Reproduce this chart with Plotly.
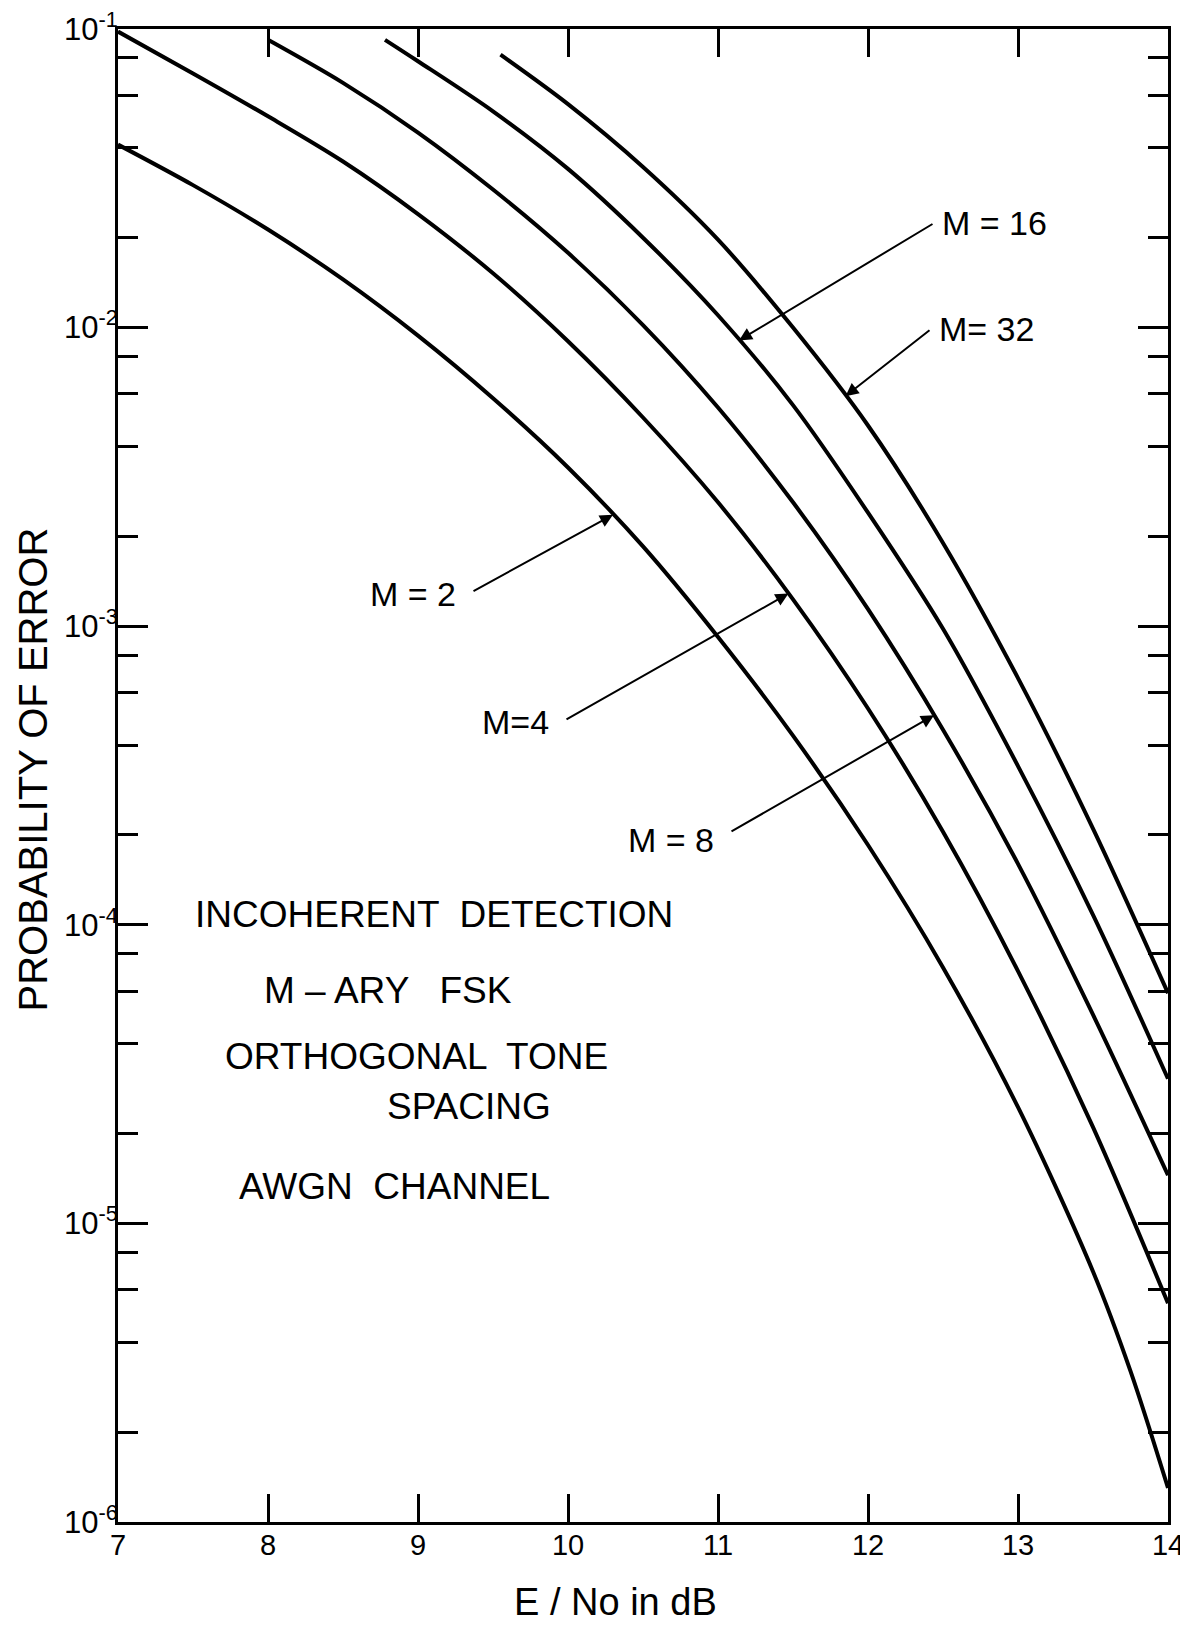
import numpy as np
import plotly.graph_objects as go

# ---- data (E/No in dB, probability of error) ----
x_m2 = [7.0, 7.5, 8.0, 8.5, 9.0, 9.5, 10.0, 10.5, 11.0, 11.5, 12.0, 12.5, 13.0, 13.5, 13.75, 14.0]
p_m2 = [0.041, 0.030, 0.0213, 0.0145, 0.0094, 0.0058, 0.0034, 0.00185, 9.2e-4, 4.3e-4,
        1.85e-4, 7.2e-5, 2.45e-5, 6.9e-6, 3.2e-6, 1.3e-6]

x_m4 = [7.0, 7.5, 8.0, 8.5, 9.0, 9.5, 10.0, 10.5, 11.0, 11.5, 12.0, 12.5, 13.0, 13.5, 14.0]
p_m4 = [0.098, 0.071, 0.051, 0.036, 0.024, 0.0152, 0.0090, 0.0050, 0.0026, 0.00123,
        5.3e-4, 2.05e-4, 7.0e-5, 2.1e-5, 5.4e-6]

x_m8 = [8.0, 8.5, 9.0, 9.5, 10.0, 10.5, 11.0, 11.5, 12.0, 12.5, 13.0, 13.5, 14.0]
p_m8 = [0.092, 0.066, 0.045, 0.029, 0.0178, 0.0102, 0.0054, 0.0026, 0.00114, 4.5e-4,
        1.6e-4, 5.0e-5, 1.45e-5]

x_m16 = [8.78, 9.0, 9.5, 10.0, 10.5, 11.0, 11.5, 12.0, 12.5, 13.0, 13.5, 14.0]
p_m16 = [0.092, 0.078, 0.053, 0.034, 0.020, 0.011, 0.0055, 0.0024, 9.8e-4, 3.4e-4,
         1.08e-4, 3.05e-5]

x_m32 = [9.55, 10.0, 10.5, 11.0, 11.5, 12.0, 12.5, 13.0, 13.5, 14.0]
p_m32 = [0.082, 0.056, 0.0345, 0.0197, 0.010, 0.0047, 0.0019, 6.7e-4, 2.1e-4, 5.9e-5]

x_ticks = [7, 8, 9, 10, 11, 12, 13, 14]
y_ticks = [1e-6, 1e-5, 1e-4, 1e-3, 1e-2, 1e-1]
y_tick_text = ["10<sup>-6</sup>", "10<sup>-5</sup>", "10<sup>-4</sup>",
               "10<sup>-3</sup>", "10<sup>-2</sup>", "10<sup>-1</sup>"]
minor_mult = [2, 4, 6, 8]

curve_labels = ["M = 2", "M=4", "M = 8", "M = 16", "M= 32"]
# arrow tip x on curve, arrow tail (x, log10 y), label side
arrow_tip_x = [10.30, 11.47, 12.44, 11.14, 11.85]
arrow_tail_x = [9.36, 9.98, 11.08, 12.44, 12.42]
arrow_tail_logy = [-2.885, -3.315, -3.69, -1.65, -2.005]
label_side = ["right", "right", "right", "left", "left"]
label_yshift = [-2, -2, -8, 0, 0]

info_lines = ["INCOHERENT  DETECTION", "M \u2013 ARY   FSK", "ORTHOGONAL  TONE", "SPACING", "AWGN  CHANNEL"]
info_x = [7.50, 7.96, 7.70, 8.78, 7.79]
info_logy = [-3.965, -4.22, -4.44, -4.61, -4.875]

x_title = "E / No in dB"
y_title = "PROBABILITY OF ERROR"

FONT = "Liberation Sans"
curves = [(x_m2, p_m2), (x_m4, p_m4), (x_m8, p_m8), (x_m16, p_m16), (x_m32, p_m32)]

fig = go.Figure()
for (xs, ps), name in zip(curves, curve_labels):
    fig.add_trace(go.Scatter(x=xs, y=ps, mode="lines", name=name,
                             line=dict(color="black", width=4, shape="spline", smoothing=0.9),
                             showlegend=False, hoverinfo="skip"))

for (xs, ps), lab, tx, ax_, ay_, side, ys in zip(curves, curve_labels, arrow_tip_x,
                                                 arrow_tail_x, arrow_tail_logy, label_side,
                                                 label_yshift):
    ty = float(np.interp(tx, xs, np.log10(ps)))
    fig.add_annotation(x=tx, y=ty, ax=ax_, ay=ay_, xref="x", yref="y", axref="x", ayref="y",
                       text="", showarrow=True, arrowhead=2, arrowsize=1.3, arrowwidth=2,
                       arrowcolor="black", standoff=0, startstandoff=0)
    fig.add_annotation(x=ax_, y=ay_, xref="x", yref="y", text=lab, showarrow=False,
                       xanchor=side, yanchor="middle", yshift=ys,
                       xshift=(6 if side == "left" else -14),
                       font=dict(family=FONT, size=34, color="black"))

for t, xx, yy in zip(info_lines, info_x, info_logy):
    fig.add_annotation(x=xx, y=yy, xref="x", yref="y", text=t, showarrow=False,
                       xanchor="left", yanchor="middle",
                       font=dict(family=FONT, size=37, color="black"))

# axis titles
fig.add_annotation(x=0.474, y=-0.0536, xref="paper", yref="paper", text=x_title,
                   showarrow=False, xanchor="center", yanchor="middle",
                   font=dict(family=FONT, size=38, color="black"))
fig.add_annotation(x=-0.081, y=0.504, xref="paper", yref="paper", text=y_title,
                   showarrow=False, xanchor="center", yanchor="middle", textangle=-90,
                   font=dict(family=FONT, size=40, color="black"))

minor_vals = [m * 10.0 ** d for d in range(-6, -1) for m in minor_mult]

fig.update_xaxes(range=[7, 14], tickvals=x_ticks, ticktext=[str(v) for v in x_ticks],
                 automargin=False, ticklabeloverflow="allow",
                 showgrid=False, zeroline=False, showline=True, linecolor="black", linewidth=3,
                 mirror="ticks", ticks="inside", ticklen=28, tickwidth=2.5, tickcolor="black",
                 ticklabelstandoff=-5,
                 tickfont=dict(family=FONT, size=29, color="black"))
fig.update_yaxes(type="log", range=[-6, -1], tickvals=y_ticks, ticktext=y_tick_text,
                 automargin=False, ticklabeloverflow="allow",
                 showgrid=False, zeroline=False, showline=True, linecolor="black", linewidth=3,
                 mirror="ticks", ticks="inside", ticklen=30, tickwidth=2.5, tickcolor="black",
                 ticklabelstandoff=-9,
                 tickfont=dict(family=FONT, size=31, color="black"),
                 minor=dict(tickvals=minor_vals, ticks="inside", ticklen=20, tickwidth=2.5,
                            tickcolor="black", showgrid=False))

# page body adds an 8 px margin, so the figure is sized to fit inside the 1188x1632 window
fig.update_layout(width=1180, height=1616, paper_bgcolor="white", plot_bgcolor="white",
                  margin=dict(l=110, r=20, t=21, b=102, autoexpand=False), showlegend=False)

fig.write_html("out.html")
